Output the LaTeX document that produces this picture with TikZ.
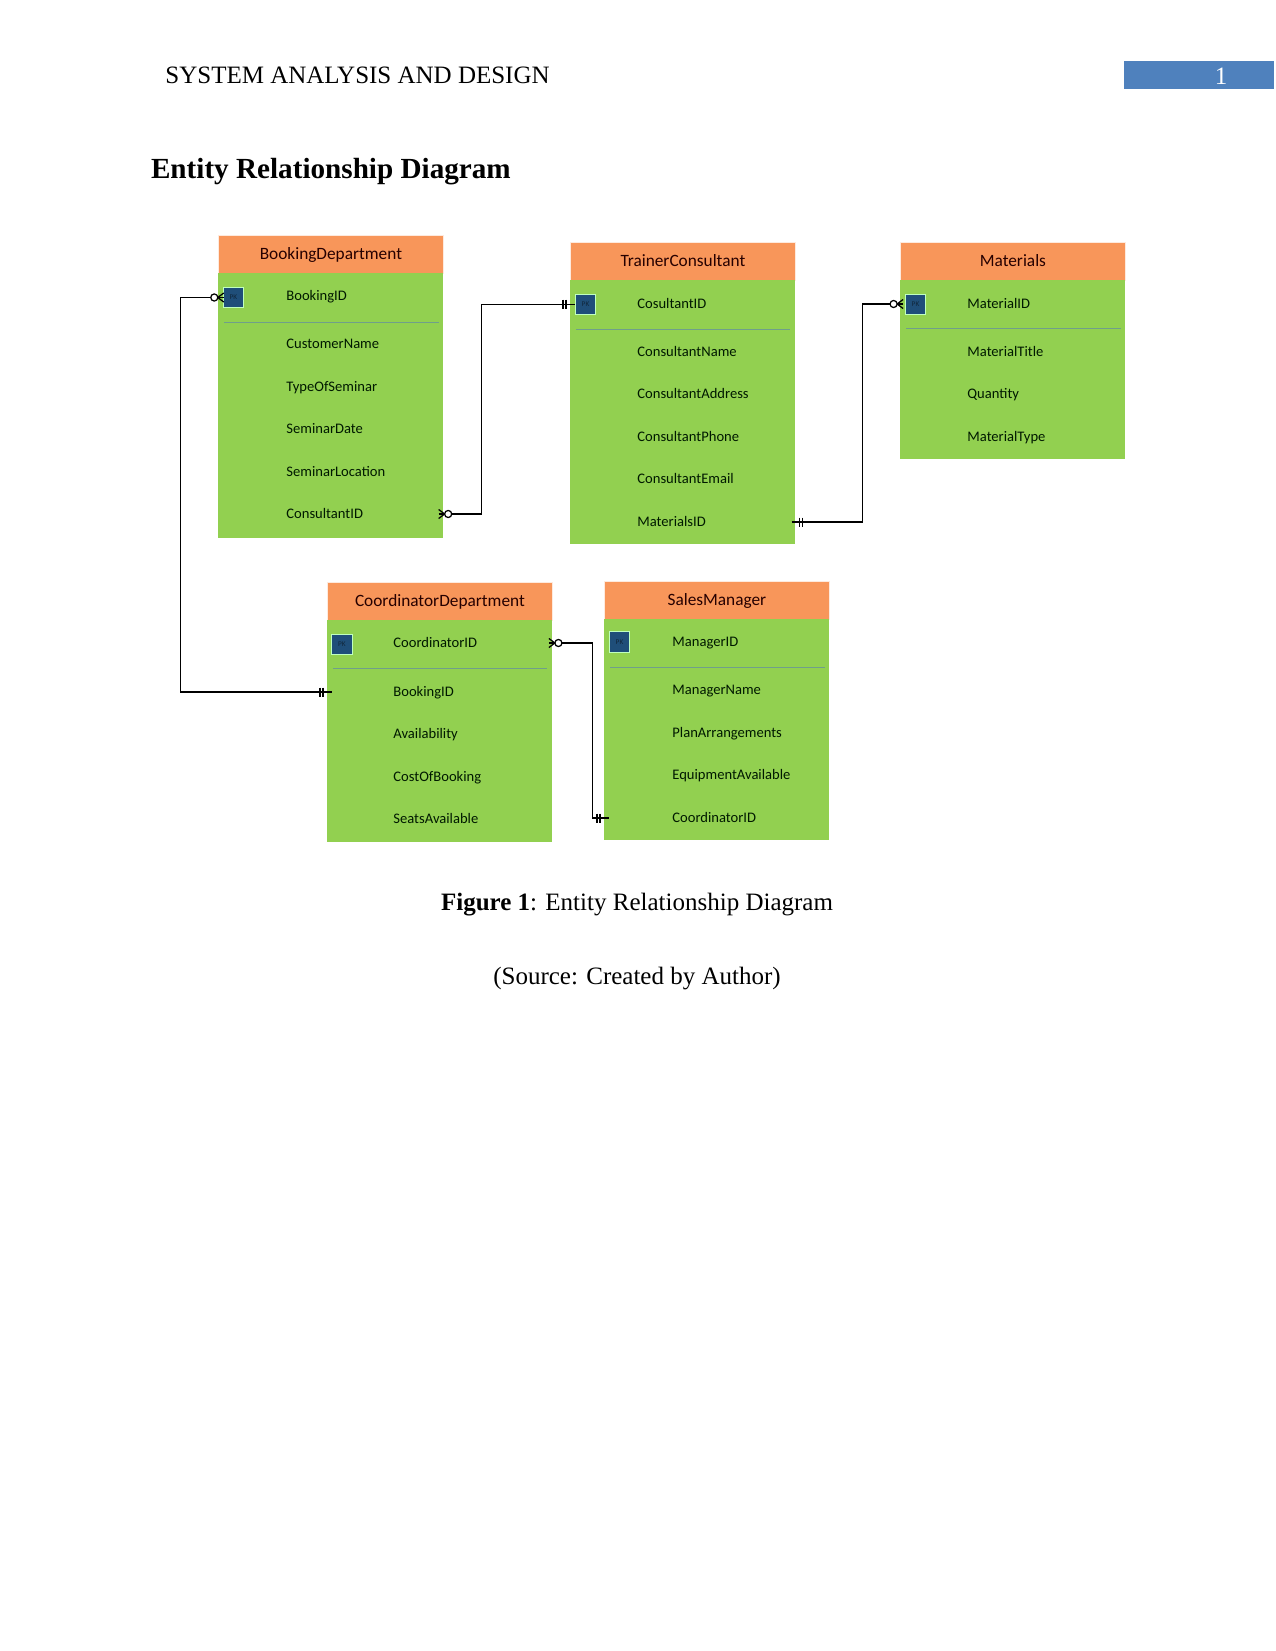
\documentclass[tikz,border=0pt]{standalone}
\usepackage{fontspec}
\setmainfont{Liberation Serif}
\newfontfamily\erfont{Carlito}
\definecolor{hdrorange}{HTML}{F8965A}
\definecolor{bodygreen}{HTML}{92D050}
\definecolor{pkblue}{HTML}{1F4E79}
\definecolor{pagebox}{HTML}{4F81BD}
\definecolor{sepline}{HTML}{6F9F8A}
\tikzset{
  erhdr/.style={fill=hdrorange, draw=white!80!hdrorange, line width=0.4pt, anchor=north west,
    minimum width=108pt, minimum height=18.24pt, inner sep=0pt,
    font=\erfont\fontsize{8.3}{9.6}\selectfont, text=black!85!red, text height=5.3pt, text depth=0pt},
  erbody/.style={fill=bodygreen, draw=none, anchor=north west, minimum width=108pt,
    minimum height=#1, inner sep=0pt},
  errow/.style={anchor=west, inner sep=0pt, font=\erfont\fontsize{7}{8}\selectfont,
    text=black!90!green, text height=4.5pt, text depth=0pt},
  pkbox/.style={fill=pkblue, draw=white!75!green, line width=0.5pt, minimum size=9.8pt,
    inner sep=0pt, font=\erfont\fontsize{3.5}{4}\selectfont, text=pkblue!50!black},
  sep/.style={draw=sepline, line width=0.35pt},
  conn/.style={draw=black, line width=0.6pt},
  pics/zmany/.style={code={
    \draw[conn] (1,-4.5) -- (-5,0) -- (1,4.5);
    \draw[conn] (1,0) -- (-5,0);
    \draw[conn, fill=white] (-8.5,0) circle (1.7pt);
  }},
  pics/onlyone/.style={code={
    \draw[conn] (-4,-4.5) -- (-4,4.5);
    \draw[conn] (-7,-4.5) -- (-7,4.5);
  }},
}
\begin{document}
\begin{tikzpicture}[x=0.48pt,y=-0.48pt]
\useasboundingbox (0,0) rectangle (1275,1651);

% running head
\node[anchor=base west, inner sep=0pt, font=\fontsize{12}{14}\selectfont] (runhead) at (165,84) {SYSTEM ANALYSIS AND DESIGN};
\node[fill=pagebox, anchor=north west, minimum width=72pt, minimum height=13.2pt, inner sep=0pt] (pnbox) at (1124,61) {};
\node[anchor=base, inner sep=0pt, text=white, font=\fontsize{12}{14}\selectfont] (pn) at (1221,85) {1};

% title
\node[anchor=base west, inner sep=0pt, font=\bfseries\fontsize{14}{17}\selectfont] (title) at (150.6,179) {Entity Relationship Diagram};

% BookingDepartment
\node[erhdr] (bd) at (218,235) {BookingDepartment};
\node[erbody=127.2pt] (bdbody) at (218,273) {};
\node[pkbox] (bdpk) at (233.5,297.5) {PK};
\draw[sep] (224,322) -- (439,322);
\node[errow] (bd1) at (286,296) {BookingID};
\node[errow] (bd2) at (286,344) {CustomerName};
\node[errow] (bd3) at (286,387) {TypeOfSeminar};
\node[errow] (bd4) at (286,429) {SeminarDate};
\node[errow] (bd5) at (286,472) {SeminarLocation};
\node[errow] (bd6) at (286,514) {ConsultantID};

% TrainerConsultant
\node[erhdr] (tc) at (570,242) {TrainerConsultant};
\node[erbody=126.72pt] (tcbody) at (570,280) {};
\node[pkbox] (tcpk) at (585.5,304.5) {PK};
\draw[sep] (576,329) -- (790,329);
\node[errow] (tc1) at (637,304) {CosultantID};
\node[errow] (tc2) at (637,352) {ConsultantName};
\node[errow] (tc3) at (637,394) {ConsultantAddress};
\node[errow] (tc4) at (637,437) {ConsultantPhone};
\node[errow] (tc5) at (637,479) {ConsultantEmail};
\node[errow] (tc6) at (637,522) {MaterialsID};

% Materials
\node[erhdr] (mat) at (900,242) {Materials};
\node[erbody=85.92pt] (matbody) at (900,280) {};
\node[pkbox] (matpk) at (915.5,304.5) {PK};
\draw[sep] (906,328) -- (1121,328);
\node[errow] (mat1) at (967,304) {MaterialID};
\node[errow] (mat2) at (967,352) {MaterialTitle};
\node[errow] (mat3) at (967,394) {Quantity};
\node[errow] (mat4) at (967,437) {MaterialType};

% CoordinatorDepartment
\node[erhdr] (cd) at (327,582) {CoordinatorDepartment};
\node[erbody=106.56pt] (cdbody) at (327,620) {};
\node[pkbox] (cdpk) at (342,644.5) {PK};
\draw[sep] (333,668) -- (547,668);
\node[errow] (cd1) at (393,643) {CoordinatorID};
\node[errow] (cd2) at (393,692) {BookingID};
\node[errow] (cd3) at (393,734) {Availability};
\node[errow] (cd4) at (393,777) {CostOfBooking};
\node[errow] (cd5) at (393,819) {SeatsAvailable};

% SalesManager
\node[erhdr] (sm) at (604,581) {SalesManager};
\node[erbody=106.08pt] (smbody) at (604,619) {};
\node[pkbox] (smpk) at (619.5,642) {PK};
\draw[sep] (610,667) -- (825,667);
\node[errow] (sm1) at (672,642) {ManagerID};
\node[errow] (sm2) at (672,690) {ManagerName};
\node[errow] (sm3) at (672,733) {PlanArrangements};
\node[errow] (sm4) at (672,775) {EquipmentAvailable};
\node[errow] (sm5) at (672,818) {CoordinatorID};

% connectors
\draw[conn] (bdpk.west) -- ++(-42,0) |- ([xshift=2.4pt]cdbody.west |- cd2);
\pic at (bdpk.west) {zmany};
\pic at (cdbody.west |- cd2) {onlyone};

\draw[conn] ([xshift=-2pt]bdbody.east |- bd6) -- ++(42,0) |- (tcpk.west);
\pic[xscale=-1] at ([xshift=-2pt]bdbody.east |- bd6) {zmany};
\pic at (tcbody.west |- tc1) {onlyone};

\draw[conn] ([xshift=-2pt]tcbody.east |- tc6) -- ++(71,0) |- (matbody.west |- mat1);
\pic[xscale=-1] at (tcbody.east |- tc6) {onlyone};
\pic at ([xshift=1pt]matbody.west |- mat1) {zmany};

\draw[conn] (cdbody.east |- cd1) -- ++(40,0) |- ([xshift=2.4pt]smbody.west |- sm5);
\pic[xscale=-1] at ([xshift=-1.4pt]cdbody.east |- cd1) {zmany};
\pic at (smbody.west |- sm5) {onlyone};

% caption
\node[anchor=base, inner sep=0pt, font=\fontsize{12}{14}\selectfont] (caption) at (637,910) {\textbf{Figure 1}: Entity Relationship Diagram};
\node[anchor=base, inner sep=0pt, font=\fontsize{12}{14}\selectfont] (source) at (637,984) {(Source: Created by Author)};
\end{tikzpicture}
\end{document}
